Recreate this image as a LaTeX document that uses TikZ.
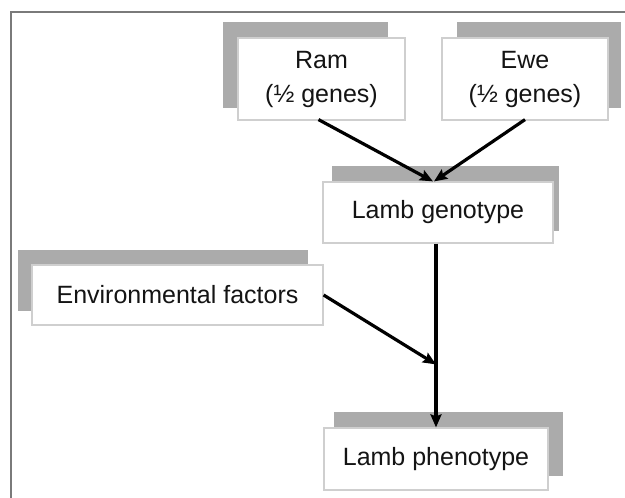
\documentclass[tikz,border=0pt]{standalone}
\usepackage{fontspec}
\setmainfont{Liberation Sans}
\usetikzlibrary{calc,arrows.meta}
\pgfdeclarelayer{bg}
\pgfsetlayers{bg,main}
\definecolor{shadowgray}{HTML}{ABABAB}
\definecolor{boxline}{HTML}{CFCFCF}
\definecolor{framegray}{HTML}{7A7A7A}
\definecolor{txt}{HTML}{141414}
\begin{document}
\begin{tikzpicture}[x=1pt,y=-1pt,
  box/.style={draw=boxline,line width=1.2pt,fill=white,text=txt,
    inner sep=0pt,align=center,font=\fontsize{25}{34}\selectfont},
  shadowfill/.style={fill=shadowgray},
  link/.style={line width=3.2pt,-{Stealth[length=13pt,width=11pt,inset=2pt]}},
  frameline/.style={draw=framegray,line width=1.5pt}]
\useasboundingbox (0,0) rectangle (625,498);
\draw[frameline] (11,498) -- (11,12) -- (625,12);

\node[box,minimum width=167pt,minimum height=82pt] (ram) at (321.5,79) {Ram\\(½ genes)};
\node[box,minimum width=166pt,minimum height=82pt] (ewe) at (525,79) {Ewe\\(½ genes)};
\node[box,minimum width=230pt,minimum height=61pt] (geno) at (438,212.5) {Lamb genotype};
\node[box,minimum width=291pt,minimum height=60pt] (env) at (177.5,295) {Environmental factors};
\node[box,minimum width=224pt,minimum height=62pt] (pheno) at (436,459) {Lamb phenotype};

\begin{pgfonlayer}{bg}
\fill[shadowfill] ($(ram.north west)+(-14,-15)$) rectangle ($(ram.south east)+(-18,-13)$);
\fill[shadowfill] ($(ewe.north west)+(16,-15)$) rectangle ($(ewe.south east)+(12,-13)$);
\fill[shadowfill] ($(geno.north west)+(10,-15)$) rectangle ($(geno.south east)+(5,-13)$);
\fill[shadowfill] ($(env.north west)+(-13,-14)$) rectangle ($(env.south east)+(-16,-15)$);
\fill[shadowfill] ($(pheno.north west)+(11,-15)$) rectangle ($(pheno.south east)+(14,-15)$);
\end{pgfonlayer}

\coordinate (join) at ($(pheno.north)+(0,-63)$);
\draw[link] ($(ram.south)+(-3,-1)$) -- ($(geno.north)+(-5,0)$);
\draw[link] ($(ewe.south)+(0,-1)$) -- ($(geno.north)+(-4,0)$);
\draw[link] (pheno.north |- geno.south) -- (pheno.north);
\draw[link] (env.east) -- (join);
\end{tikzpicture}
\end{document}
